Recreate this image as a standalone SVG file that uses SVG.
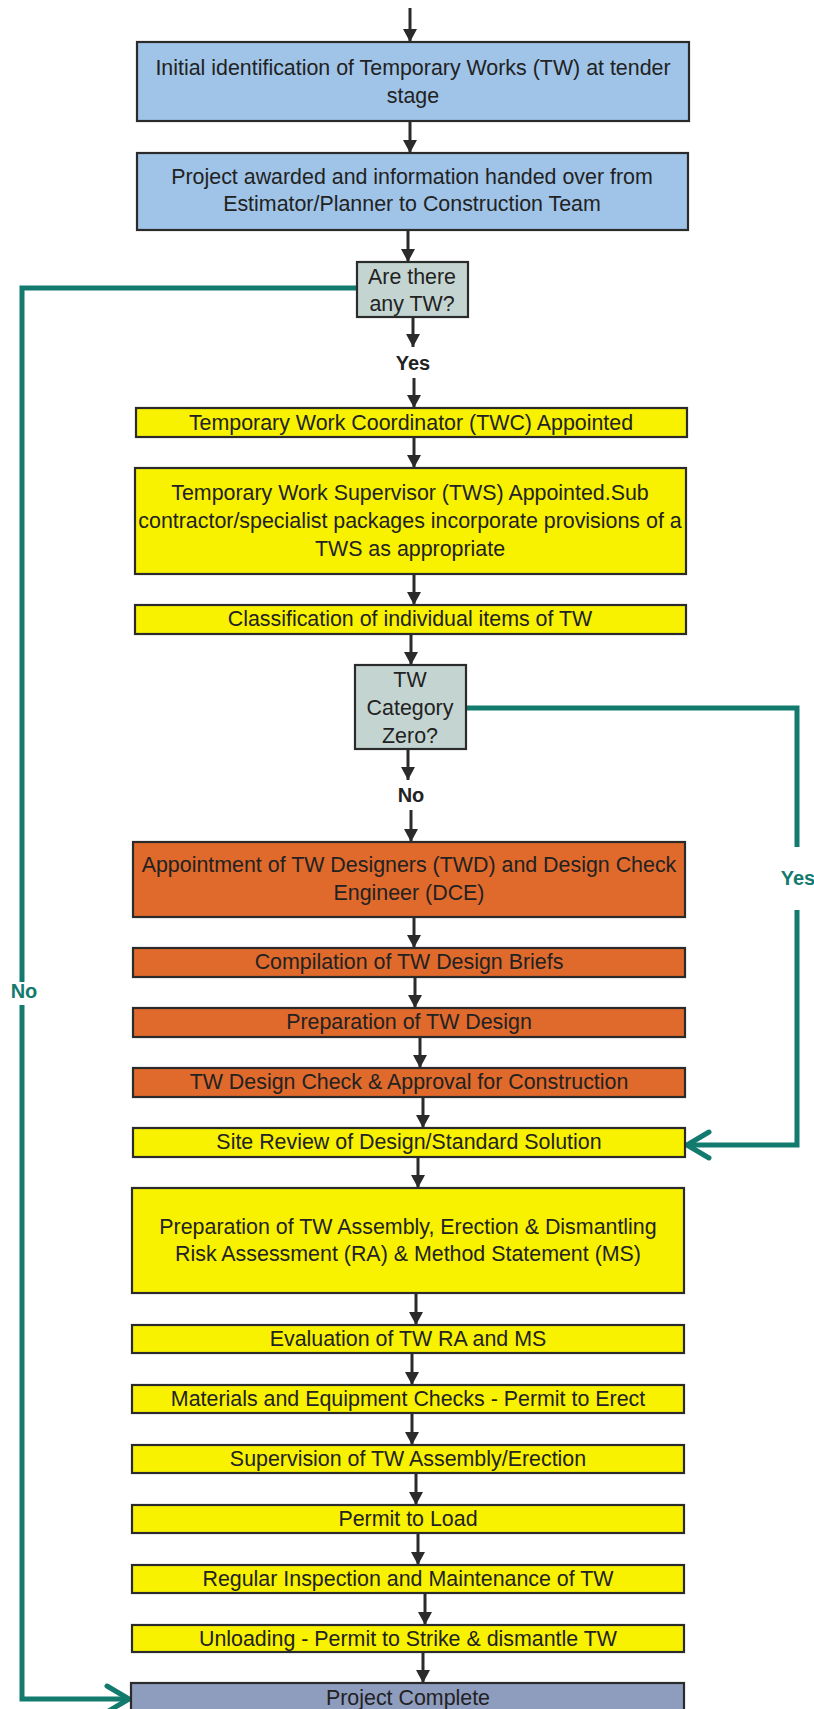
<svg xmlns="http://www.w3.org/2000/svg" width="814" height="1709" viewBox="0 0 814 1709">
<style>
.box{stroke:#2b2b2b;stroke-width:2.2}
.blue{fill:#9FC4E8}
.yel{fill:#F8F200}
.org{fill:#E0692C}
.dec{fill:#C4D5D1}
.end{fill:#8E9CBE}
text{font-family:"Liberation Sans",Arial,sans-serif;font-size:21.4px;fill:#222;text-anchor:middle}
.lbl{font-weight:bold;font-size:20px}
.tl{fill:#137A6E}
.arr{stroke:#2b2b2b;stroke-width:3;fill:none;marker-end:url(#ah)}
.teal{stroke:#137A6E;stroke-width:5;fill:none;stroke-linejoin:miter}
.chev{stroke:#137A6E;stroke-width:5;fill:none;stroke-linecap:round;stroke-linejoin:round}
</style>
<defs>
<marker id="ah" markerUnits="userSpaceOnUse" markerWidth="15" markerHeight="14" refX="13" refY="7" orient="auto">
<path d="M0,0 L13,7 L0,14 Z" fill="#2b2b2b"/>
</marker>
</defs>
<rect width="814" height="1709" fill="#ffffff"/>
<g id="connectors">
<line class="arr" x1="410" y1="8" x2="410" y2="42"/>
<line class="arr" x1="410" y1="121" x2="410" y2="153"/>
<line class="arr" x1="408" y1="230" x2="408" y2="262"/>
<line class="arr" x1="413" y1="317" x2="413" y2="347"/>
<line class="arr" x1="414" y1="378" x2="414" y2="408"/>
<line class="arr" x1="414" y1="437" x2="414" y2="468"/>
<line class="arr" x1="414" y1="574" x2="414" y2="605"/>
<line class="arr" x1="411" y1="634" x2="411" y2="665"/>
<line class="arr" x1="408" y1="749" x2="408" y2="780"/>
<line class="arr" x1="411" y1="810" x2="411" y2="842"/>
<line class="arr" x1="414" y1="917" x2="414" y2="948"/>
<line class="arr" x1="415" y1="977" x2="415" y2="1008"/>
<line class="arr" x1="420" y1="1037" x2="420" y2="1068"/>
<line class="arr" x1="423" y1="1097" x2="423" y2="1128"/>
<line class="arr" x1="418" y1="1157" x2="418" y2="1188"/>
<line class="arr" x1="416" y1="1293" x2="416" y2="1325"/>
<line class="arr" x1="412" y1="1353" x2="412" y2="1385"/>
<line class="arr" x1="412" y1="1413" x2="412" y2="1445"/>
<line class="arr" x1="416" y1="1473" x2="416" y2="1505"/>
<line class="arr" x1="418" y1="1533" x2="418" y2="1565"/>
<line class="arr" x1="425" y1="1593" x2="425" y2="1625"/>
<line class="arr" x1="423" y1="1652" x2="423" y2="1683"/>
<path class="teal" d="M357 288 H22 V982"/>
<path class="teal" d="M22 1005 V1699 H129"/>
<path class="chev" d="M107 1686 L129 1699 L107 1712"/>
<path class="teal" d="M466 708 H797 V847"/>
<path class="teal" d="M797 910 V1145 H687"/>
<path class="chev" d="M709 1132 L687 1145 L709 1158"/>
<text class="lbl" x="413" y="370">Yes</text>
<text class="lbl" x="411" y="802">No</text>
<text class="lbl tl" x="24" y="998">No</text>
<text class="lbl tl" x="798" y="885">Yes</text>
</g>
<g id="n1"><rect class="box blue" x="137" y="42" width="552" height="79"/><text x="413" y="75">Initial identification of Temporary Works (TW) at tender</text><text x="413" y="103">stage</text></g>
<g id="n2"><rect class="box blue" x="137" y="153" width="551" height="77"/><text x="412" y="184">Project awarded and information handed over from</text><text x="412" y="211">Estimator/Planner to Construction Team</text></g>
<g id="d1"><rect class="box dec" x="357" y="262" width="111" height="55"/><text x="412" y="284">Are there</text><text x="412" y="311">any TW?</text></g>
<g id="n3"><rect class="box yel" x="136" y="408" width="551" height="29"/><text x="411" y="430">Temporary Work Coordinator (TWC) Appointed</text></g>
<g id="n4"><rect class="box yel" x="135" y="468" width="551" height="106"/><text x="410" y="500">Temporary Work Supervisor (TWS) Appointed.Sub</text><text x="410" y="528">contractor/specialist packages incorporate provisions of a</text><text x="410" y="556">TWS as appropriate</text></g>
<g id="n5"><rect class="box yel" x="135" y="605" width="551" height="29"/><text x="410" y="626">Classification of individual items of TW</text></g>
<g id="d2"><rect class="box dec" x="355" y="665" width="111" height="84"/><text x="410" y="687">TW</text><text x="410" y="715">Category</text><text x="410" y="743">Zero?</text></g>
<g id="n6"><rect class="box org" x="133" y="842" width="552" height="75"/><text x="409" y="872">Appointment of TW Designers (TWD) and Design Check</text><text x="409" y="900">Engineer (DCE)</text></g>
<g id="n7"><rect class="box org" x="133" y="948" width="552" height="29"/><text x="409" y="969">Compilation of TW Design Briefs</text></g>
<g id="n8"><rect class="box org" x="133" y="1008" width="552" height="29"/><text x="409" y="1029">Preparation of TW Design</text></g>
<g id="n9"><rect class="box org" x="133" y="1068" width="552" height="29"/><text x="409" y="1089">TW Design Check &amp; Approval for Construction</text></g>
<g id="n10"><rect class="box yel" x="133" y="1128" width="552" height="29"/><text x="409" y="1149">Site Review of Design/Standard Solution</text></g>
<g id="n11"><rect class="box yel" x="132" y="1188" width="552" height="105"/><text x="408" y="1234">Preparation of TW Assembly, Erection &amp; Dismantling</text><text x="408" y="1261">Risk Assessment (RA) &amp; Method Statement (MS)</text></g>
<g id="n12"><rect class="box yel" x="132" y="1325" width="552" height="28"/><text x="408" y="1346">Evaluation of TW RA and MS</text></g>
<g id="n13"><rect class="box yel" x="132" y="1385" width="552" height="28"/><text x="408" y="1406">Materials and Equipment Checks - Permit to Erect</text></g>
<g id="n14"><rect class="box yel" x="132" y="1445" width="552" height="28"/><text x="408" y="1466">Supervision of TW Assembly/Erection</text></g>
<g id="n15"><rect class="box yel" x="132" y="1505" width="552" height="28"/><text x="408" y="1526">Permit to Load</text></g>
<g id="n16"><rect class="box yel" x="132" y="1565" width="552" height="28"/><text x="408" y="1586">Regular Inspection and Maintenance of TW</text></g>
<g id="n17"><rect class="box yel" x="132" y="1625" width="552" height="27"/><text x="408" y="1646">Unloading - Permit to Strike &amp; dismantle TW</text></g>
<g id="n18"><rect class="box end" x="131" y="1683" width="553" height="40"/><text x="408" y="1705">Project Complete</text></g>
</svg>
